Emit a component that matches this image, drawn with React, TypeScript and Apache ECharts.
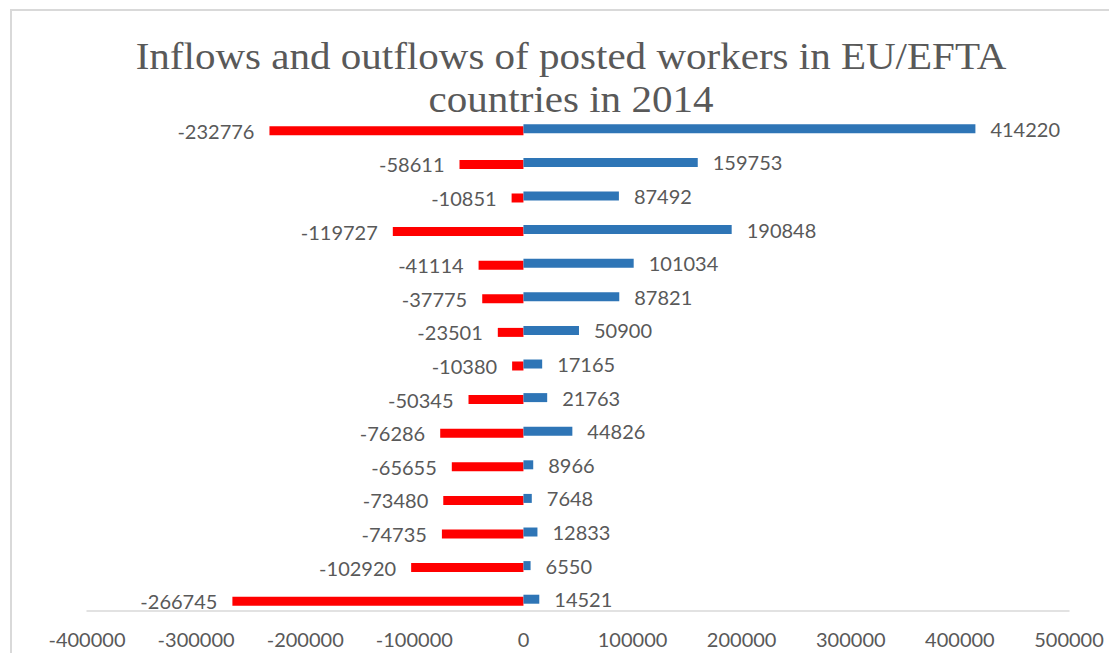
import React, { useEffect, useRef } from "react";
import * as echarts from "echarts";

const rows = ["1", "2", "3", "4", "5", "6", "7", "8", "9", "10", "11", "12", "13", "14", "15"];
const outflows = [-232776, -58611, -10851, -119727, -41114, -37775, -23501, -10380, -50345, -76286, -65655, -73480, -74735, -102920, -266745];
const inflows = [414220, 159753, 87492, 190848, 101034, 87821, 50900, 17165, 21763, 44826, 8966, 7648, 12833, 6550, 14521];
const xTicks = { min: -400000, max: 500000, interval: 100000 };
const titleLines = ["Inflows and outflows of posted workers in EU/EFTA", "countries in 2014"];

const labelFont = "Lato, 'Open Sans', sans-serif";
const grey = "#595959";

export default function App() {
  const ref = useRef<HTMLDivElement>(null);
  useEffect(() => {
    document.body.style.margin = "0";
    const chart = echarts.init(ref.current!, undefined, { renderer: "svg" });
    chart.setOption({
      animation: false,
      backgroundColor: "#ffffff",
      graphic: [
        {
          type: "polyline",
          shape: { points: [[11, 653], [11, 10], [1109, 10]] },
          style: { stroke: "#d9d9d9", lineWidth: 2, fill: "none" },
          silent: true,
        },
        {
          type: "text",
          x: 571,
          y: 35,
          scaleX: 1.08,
          style: {
            text: titleLines.join("\n"),
            align: "center",
            verticalAlign: "top",
            fontFamily: "'Liberation Serif', serif",
            fontSize: 38,
            lineHeight: 43,
            fill: grey,
          },
          silent: true,
        },
      ],
      grid: { left: 87, right: 40, top: 113, bottom: 36, containLabel: false },
      xAxis: {
        type: "value",
        min: xTicks.min,
        max: xTicks.max,
        interval: xTicks.interval,
        offset: -6,
        axisLine: { show: true, lineStyle: { color: "#d9d9d9", width: 1.5 } },
        axisTick: { show: false },
        splitLine: { show: false },
        axisLabel: {
          color: grey,
          fontSize: 20,
          fontFamily: labelFont,
          margin: 18,
          formatter: (v: number) => String(v),
        },
      },
      yAxis: {
        type: "category",
        data: rows,
        inverse: true,
        axisLine: { show: false },
        axisTick: { show: false },
        axisLabel: { show: false },
        splitLine: { show: false },
      },
      series: [
        {
          name: "Inflows",
          type: "bar",
          data: inflows,
          barWidth: 9,
          barGap: "-78%",
          z: 3,
          itemStyle: { color: "#2e75b6" },
          label: {
            show: true,
            position: "right",
            distance: 15,
            color: grey,
            fontSize: 20,
            fontFamily: labelFont,
          },
        },
        {
          name: "Outflows",
          type: "bar",
          data: outflows,
          barWidth: 9,
          z: 2,
          itemStyle: { color: "#ff0000" },
          label: {
            show: true,
            position: "left",
            distance: 15,
            color: grey,
            fontSize: 20,
            fontFamily: labelFont,
          },
        },
      ],
    });
    return () => chart.dispose();
  }, []);
  return (
    <div
      ref={ref}
      style={{ position: "fixed", left: 0, top: 0, width: 1109, height: 653 }}
    />
  );
}
